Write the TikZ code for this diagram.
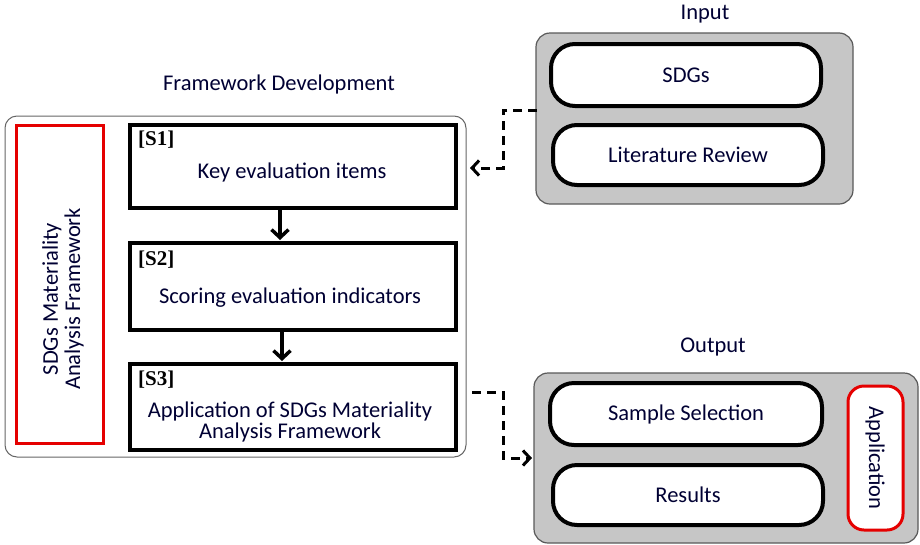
\documentclass[tikz,border=0pt]{standalone}
\usepackage{fontspec}
\setmainfont{Carlito}
\newfontfamily\serifb{Liberation Serif}
\usetikzlibrary{arrows.meta}
\begin{document}
\begin{tikzpicture}[x=1pt,y=-1pt,
  txt/.style={font=\fontsize{22.5}{25}\selectfont, text=black!80!blue},
  frame/.style={draw=gray!80!black, line width=1pt, rounded corners=12pt},
  stepbox/.style={draw=black, line width=4.5pt, fill=white},
  redbox/.style={draw=red!90!black, line width=3pt, fill=white},
  graybox/.style={draw=gray!70!black, line width=1.2pt, fill=gray!45, rounded corners=14pt},
  pill/.style={draw=black, line width=4pt, fill=white, rounded corners=24pt},
  sarrow/.style={line width=3.5pt, -{Straight Barb[length=8pt,width=17pt,line width=3.5pt]}},
  darrow/.style={line width=3pt, dash pattern=on 9pt off 6pt, -{Straight Barb[length=7pt,width=15pt,line width=3pt]}},
  label/.style={font=\serifb\bfseries\fontsize{21}{24}\selectfont, anchor=north west, inner sep=1pt}
]
\useasboundingbox (0,0) rectangle (920,544);
% Framework
\node[txt] (fwt) at (279,84) {Framework Development};
\draw[frame] (5,116) rectangle (466,457);
\coordinate (fwe) at (472,392);
\draw[redbox] (16,125) rectangle (103,443);
\node[txt, font=\fontsize{22.5}{22}\selectfont, rotate=90, align=center] (sma) at (63,299) {SDGs Materiality\\Analysis Framework};
\draw[stepbox] (130,125) rectangle (456,208);
\draw[stepbox] (130,243) rectangle (456,330);
\draw[stepbox] (130,364) rectangle (456,450);
\node[label] (l1) at (137,130) {[S1]};
\node[txt] (t1) at (292,172) {Key evaluation items};
\node[label] (l2) at (137,250) {[S2]};
\node[txt] (t2) at (290,298) {Scoring evaluation indicators};
\node[label] (l3) at (137,370) {[S3]};
\node[txt, font=\fontsize{22.5}{21}\selectfont, align=center] (t3) at (290,422) {Application of SDGs Materiality\\Analysis Framework};
\coordinate (a1s) at (280,210); \coordinate (a1e) at (280,240);
\coordinate (a2s) at (282,332); \coordinate (a2e) at (282,361);
\draw[sarrow] (a1s) -- (a1e);
\draw[sarrow] (a2s) -- (a2e);
% Input
\node[txt] (int) at (705,14) {Input};
\draw[graybox] (536,33) rectangle (853,204);
\node[pill, minimum width=270pt, minimum height=62pt, txt] (sdg) at (686,75) {SDGs};
\node[pill, minimum width=270pt, minimum height=60pt, txt] (lit) at (688,155) {Literature Review};
\coordinate (inw) at (537,110);
\coordinate (fwin) at (470,168);
\draw[darrow] (inw) -- (503,110) -- (503,168) -- (fwin);
% Output
\node[txt] (outt) at (713,347) {Output};
\draw[graybox] (534,373) rectangle (918,543);
\node[pill, minimum width=272pt, minimum height=62pt, txt] (ss) at (686,414) {Sample Selection};
\node[pill, minimum width=270pt, minimum height=60pt, txt] (res) at (688,495) {Results};
\draw[redbox, rounded corners=16pt] (848,386) rectangle (903,530);
\node[txt, rotate=-90] (app) at (875,458) {Application};
\coordinate (outw) at (532,458);
\draw[darrow] (fwe) -- (503,392) -- (503,458) -- (outw);
\end{tikzpicture}
\end{document}
